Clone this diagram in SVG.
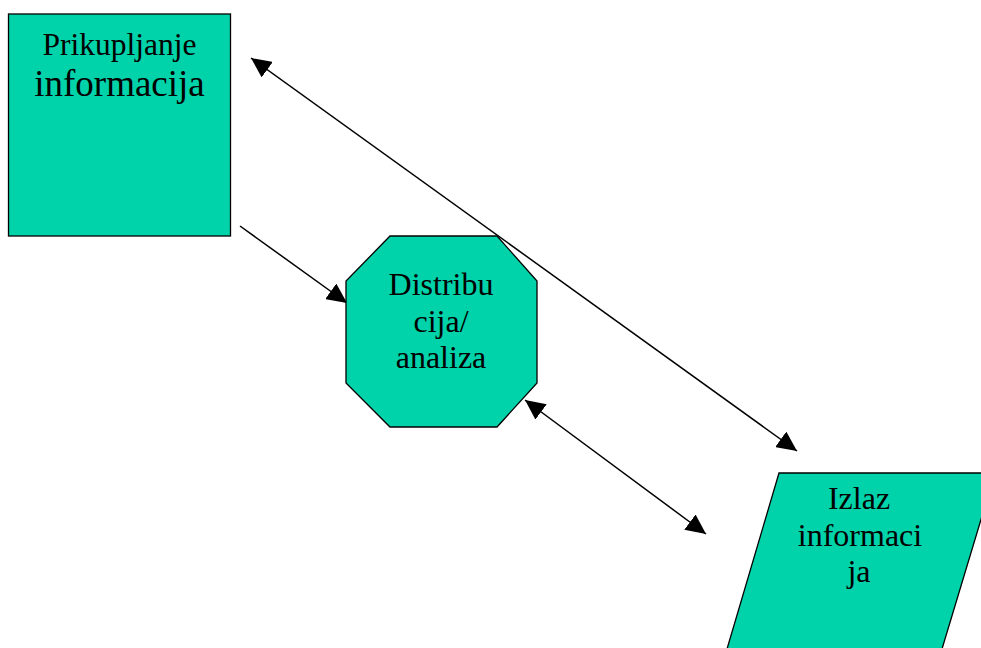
<svg xmlns="http://www.w3.org/2000/svg" width="981" height="648" viewBox="0 0 981 648">
<style>
.node{fill:#00D2AA;stroke:#000;stroke-width:1.3}
.lbl{font-family:"Liberation Serif","Times New Roman",serif;fill:#000;text-anchor:middle}
.conn{stroke:#000;stroke-width:1.5;fill:none}
</style>
<defs>
<marker id="ah" viewBox="0 0 20 19" refX="20" refY="9.5" markerWidth="20" markerHeight="19" markerUnits="userSpaceOnUse" orient="auto-start-reverse">
<path d="M0,0 L20,9.5 L0,19 Z" fill="#000"/>
</marker>
</defs>
<rect width="981" height="648" fill="#fff"/>
<g id="connectors">
<line class="conn" x1="240" y1="226" x2="347" y2="303" marker-end="url(#ah)"/>
<line class="conn" x1="251" y1="58" x2="797" y2="451" marker-start="url(#ah)" marker-end="url(#ah)"/>
<line class="conn" x1="525" y1="400" x2="706" y2="534" marker-start="url(#ah)" marker-end="url(#ah)"/>
</g>
<g id="prikupljanje">
<rect class="node" x="8.5" y="14" width="222" height="222"/>
<text class="lbl" x="119.5" y="55" font-size="31.5">Prikupljanje</text>
<text class="lbl" x="119.5" y="96" font-size="37">informacija</text>
</g>
<g id="distribucija">
<polygon class="node" points="390,236 497,236 537,281 537,383 497,427 390,427 346,383 346,281"/>
<text class="lbl" x="441" y="295" font-size="32">Distribu</text>
<text class="lbl" x="441" y="332" font-size="32">cija/</text>
<text class="lbl" x="441" y="368" font-size="32">analiza</text>
</g>
<g id="izlaz">
<polygon class="node" points="779,473 995,473 942,649 727,649"/>
<text class="lbl" x="859" y="509" font-size="32">Izlaz</text>
<text class="lbl" x="860" y="546" font-size="32">informaci</text>
<text class="lbl" x="859" y="582" font-size="32">ja</text>
</g>
</svg>
